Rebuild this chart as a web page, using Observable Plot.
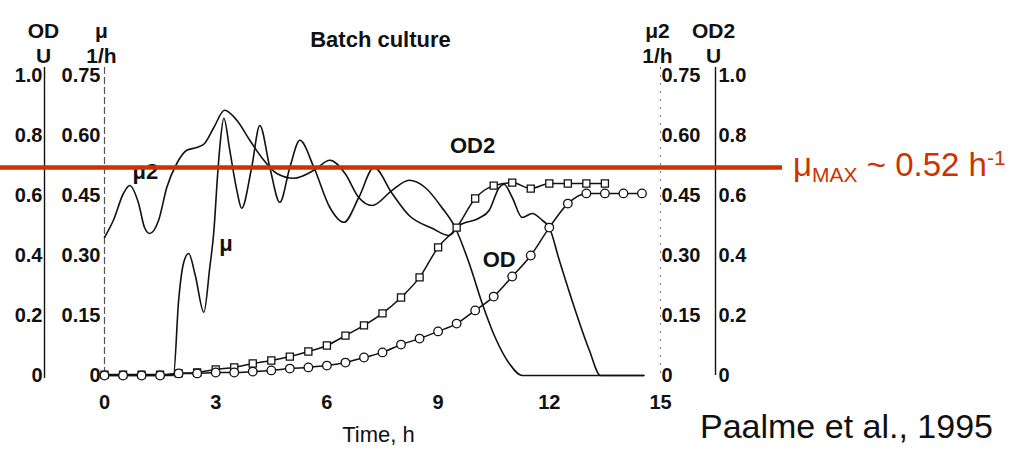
<!DOCTYPE html>
<html>
<head>
<meta charset="utf-8">
<script src="https://cdn.jsdelivr.net/npm/d3@7"></script>
<script src="https://cdn.jsdelivr.net/npm/@observablehq/plot@0.6"></script>
<style>
  html, body { margin: 0; padding: 0; background: #fff; }
  #wrap { position: relative; width: 1012px; height: 454px; overflow: hidden; font-family: "Liberation Sans", Arial, sans-serif; }
  #wrap svg { position: absolute; left: 0; top: 0; }
  .note { position: absolute; white-space: nowrap; line-height: 33px; font-size: 33px; }
  .note sub, .note sup { line-height: 0; font-size: 21px; }
  #mumax { color: #cc3300; left: 793px; top: 148px; }
  #mumax sub { vertical-align: -6px; }
  #mumax sup { vertical-align: 11px; }
  #cite { color: #111; left: 700px; top: 410px; font-size: 34px; }
</style>
</head>
<body>
<div id="wrap">
  <div id="mumax" class="note">μ<sub>MAX</sub> ~ 0.52 h<sup>-1</sup></div>
  <div id="cite" class="note">Paalme et al., 1995</div>
</div>
<script>
// ---- Data ----
const xTicks = [0, 3, 6, 9, 12, 15];
const muTicks = [0, 0.15, 0.30, 0.45, 0.60, 0.75];
const muTickLabels = ["0", "0.15", "0.30", "0.45", "0.60", "0.75"];
const odTickLabels = ["0", "0.2", "0.4", "0.6", "0.8", "1.0"];

// specific growth rate μ (1/h)
const muTime  = [0, 1.86, 2.0, 2.13, 2.27, 2.45, 2.68, 2.84, 2.95, 3.05, 3.12, 3.22, 3.38, 3.57, 3.7, 3.97, 4.19, 4.46, 4.73, 5.0, 5.27, 5.65, 6.08, 6.46, 6.86, 7.27, 7.76, 8.22, 8.84, 9.3, 9.57, 10.1, 10.38, 10.65, 10.78, 11.0, 11.27, 11.54, 11.81, 12.0, 12.27, 12.7, 13.08, 13.38, 14.55];
const muValue = [0, 0, 0.188, 0.28, 0.305, 0.25, 0.158, 0.27, 0.36, 0.5, 0.58, 0.643, 0.563, 0.463, 0.418, 0.52, 0.625, 0.52, 0.433, 0.52, 0.588, 0.52, 0.42, 0.383, 0.445, 0.52, 0.455, 0.4, 0.368, 0.35, 0.375, 0.393, 0.413, 0.47, 0.478, 0.445, 0.395, 0.405, 0.388, 0.37, 0.288, 0.163, 0.063, 0, 0];

// specific growth rate μ2 (1/h)
const mu2Time  = [0, 0.24, 0.51, 0.68, 0.92, 1.08, 1.22, 1.46, 1.68, 1.95, 2.22, 2.49, 2.7, 2.95, 3.24, 3.57, 3.92, 4.3, 4.65, 5.11, 5.65, 6.08, 6.49, 6.86, 7.22, 7.76, 8.22, 8.65, 9.1, 9.46, 9.84, 10.19, 10.54, 10.92, 11.27, 14.55];
const mu2Value = [0.345, 0.388, 0.455, 0.475, 0.43, 0.37, 0.355, 0.388, 0.47, 0.53, 0.563, 0.57, 0.58, 0.62, 0.663, 0.638, 0.588, 0.538, 0.505, 0.493, 0.513, 0.538, 0.505, 0.445, 0.425, 0.463, 0.488, 0.47, 0.42, 0.37, 0.28, 0.18, 0.095, 0.03, 0, 0];

// optical density OD (U), circles
const odTime  = [0, 0.5, 1, 1.5, 2, 2.5, 3, 3.5, 4, 4.5, 5, 5.5, 6, 6.5, 7, 7.5, 8, 8.5, 9, 9.5, 10, 10.5, 11, 11.5, 12, 12.5, 13, 13.5, 14, 14.5];
const odValue = [0, 0, 0, 0, 0.007, 0.007, 0.01, 0.01, 0.013, 0.017, 0.023, 0.027, 0.033, 0.043, 0.06, 0.077, 0.103, 0.123, 0.147, 0.173, 0.217, 0.263, 0.33, 0.4, 0.493, 0.573, 0.607, 0.607, 0.607, 0.607];

// optical density OD2 (U), squares
const od2Time  = [0, 0.5, 1, 1.5, 2, 2.5, 3, 3.5, 4, 4.5, 5, 5.5, 6, 6.5, 7, 7.5, 8, 8.5, 9, 9.5, 10, 10.5, 11, 11.5, 12, 12.5, 13, 13.5];
const od2Value = [0.003, 0.003, 0.003, 0.003, 0.007, 0.01, 0.02, 0.027, 0.04, 0.05, 0.063, 0.08, 0.1, 0.133, 0.167, 0.207, 0.26, 0.327, 0.427, 0.493, 0.59, 0.633, 0.643, 0.623, 0.64, 0.64, 0.64, 0.64];

const muMax = 0.52;
const curveLabels = [
  {t: 1.1,  v: 0.51,  text: "μ2",  weight: "bold"},
  {t: 3.28, v: 0.33,  text: "μ",   weight: "bold"},
  {t: 9.93, v: 0.575, text: "OD2", weight: "normal"},
  {t: 10.65, v: 0.29, text: "OD",  weight: "normal"}
];

// ---- Build tables ----
const odToMu = 0.75; // OD axis 0..1.0 shares the μ axis 0..0.75
const mu = muTime.map((t, i) => ({t, v: muValue[i]}));
const mu2 = mu2Time.map((t, i) => ({t, v: mu2Value[i]}));
const od = odTime.map((t, i) => ({t, v: odValue[i] * odToMu}));
const od2 = od2Time.map((t, i) => ({t, v: od2Value[i] * odToMu}));

const red = "#cc3300";
const ink = "#111";
const title = {textAnchor: "middle", lineAnchor: "middle", fontSize: 21, lineHeight: 1.2};

const chart = Plot.plot({
  width: 1012,
  height: 454,
  marginLeft: 104,
  marginRight: 352,
  marginTop: 75,
  marginBottom: 79,
  style: {fontFamily: "'Liberation Sans', Arial, sans-serif", fontSize: "20px", fontWeight: "bold", color: ink, background: "transparent"},
  x: {domain: [0, 15]},
  y: {domain: [0, 0.75]},
  marks: [
    // axis lines
    Plot.ruleX([0], {stroke: "#555", strokeWidth: 1.2, strokeDasharray: "7,3", insetTop: -8, insetBottom: -3}),
    Plot.ruleX([0], {dx: -60, stroke: ink, strokeWidth: 1.4, insetTop: -8, insetBottom: -3}),
    Plot.ruleX([15], {stroke: "#777", strokeWidth: 1, strokeDasharray: "2,6", insetTop: -8, insetBottom: -3}),
    Plot.ruleX([15], {dx: 55, stroke: ink, strokeWidth: 1.4, insetTop: -8, insetBottom: 0}),
    // axes
    Plot.axisX({ticks: xTicks, tickSize: 0, tickPadding: 19, label: null, tickFormat: d => String(d)}),
    Plot.axisY({anchor: "left", ticks: muTicks, tickSize: 0, tickPadding: 4, label: null, tickFormat: d => muTickLabels[muTicks.indexOf(d)]}),
    Plot.axisY({anchor: "left", ticks: muTicks, tickSize: 0, tickPadding: 4, dx: -58, label: null, tickFormat: d => odTickLabels[muTicks.indexOf(d)]}),
    Plot.axisY({anchor: "right", ticks: muTicks, tickSize: 0, tickPadding: 1, label: null, tickFormat: d => muTickLabels[muTicks.indexOf(d)]}),
    Plot.axisY({anchor: "right", ticks: muTicks, tickSize: 0, tickPadding: 2, dx: 56, label: null, tickFormat: d => odTickLabels[muTicks.indexOf(d)]}),
    // axis titles
    Plot.text(["OD\nU"], {...title, frameAnchor: "top-left", dx: -61, dy: -33}),
    Plot.text(["μ\n1/h"], {...title, frameAnchor: "top-left", dx: -3, dy: -33}),
    Plot.text(["μ2\n1/h"], {...title, frameAnchor: "top-right", dx: -3, dy: -33}),
    Plot.text(["OD2\nU"], {...title, frameAnchor: "top-right", dx: 53, dy: -33}),
    Plot.text(["Batch culture"], {...title, frameAnchor: "top", dx: -2, dy: -37, fontSize: 22}),
    Plot.text(["Time, h"], {...title, frameAnchor: "bottom", dx: -4, dy: 58, fontSize: 22, fontWeight: "normal"}),
    // curves
    Plot.line(mu2, {x: "t", y: "v", stroke: ink, strokeWidth: 1.6, curve: "monotone-x"}),
    Plot.line(mu, {x: "t", y: "v", stroke: ink, strokeWidth: 1.6, curve: "monotone-x"}),
    Plot.line(od2, {x: "t", y: "v", stroke: ink, strokeWidth: 1.5, curve: "monotone-x"}),
    Plot.line(od, {x: "t", y: "v", stroke: ink, strokeWidth: 1.5, curve: "monotone-x"}),
    Plot.dot(od2, {x: "t", y: "v", symbol: "square", r: 4, fill: "white", stroke: ink, strokeWidth: 1.3}),
    Plot.dot(od, {x: "t", y: "v", symbol: "circle", r: 4.3, fill: "white", stroke: ink, strokeWidth: 1.3}),
    // curve labels
    Plot.text(curveLabels, {x: "t", y: "v", text: "text", fontSize: 22, fontWeight: d => d.weight}),
    // μmax line
    Plot.ruleY([muMax], {stroke: red, strokeWidth: 4.5, insetLeft: -104, insetRight: -122})
  ]
});

document.getElementById("wrap").prepend(chart);
</script>
</body>
</html>
